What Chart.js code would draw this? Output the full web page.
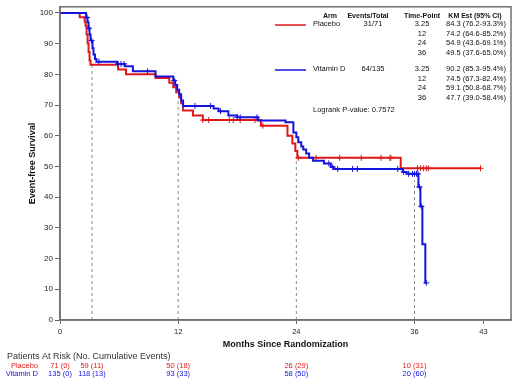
<!DOCTYPE html>
<html>
<head>
<meta charset="utf-8">
<script src="https://cdn.jsdelivr.net/npm/chart.js@4/dist/chart.umd.min.js"></script>
<style>
  html, body { margin: 0; padding: 0; background: #fff; }
  #wrap { width: 520px; height: 387px; }
</style>
</head>
<body>
<div id="wrap"><canvas id="km" width="520" height="387"></canvas></div>
<script>
// KM step points (time in months, survival % after the drop)
const placeboTime = [0, 2.0, 2.5, 2.6, 2.7, 2.8, 2.9, 3.0, 3.1, 5.9, 6.7, 9.7, 11.1, 11.5, 11.8, 12.1, 12.3, 12.5, 13.5, 14.5, 20.4, 23.1, 23.6, 23.9, 24.1, 34.6, 42.7];
const placeboSurv = [100, 98.6, 97.2, 95.8, 93.0, 90.1, 87.3, 84.5, 83.1, 81.6, 80.0, 78.8, 77.3, 75.8, 74.2, 72.5, 70.6, 68.2, 66.6, 65.1, 63.3, 60.0, 57.5, 55.0, 52.8, 49.4, 49.4];
const placeboCensor = [14.5, 15.1, 17.2, 17.6, 18.3, 19.8, 20.6, 24.2, 26.0, 28.4, 30.6, 32.6, 33.5, 33.6, 36.3, 36.6, 36.9, 37.2, 37.4, 42.7];

const vitdTime = [0, 2.65, 2.8, 2.9, 3.0, 3.1, 3.3, 3.4, 3.55, 3.7, 5.8, 6.6, 7.4, 9.7, 11.5, 11.7, 11.9, 12.1, 12.3, 12.5, 15.6, 16.1, 17.1, 18.0, 20.1, 22.9, 23.7, 24.0, 24.2, 24.5, 24.7, 25.0, 25.3, 25.7, 26.8, 27.5, 27.8, 34.8, 35.2, 36.4, 36.6, 36.8, 37.1, 37.2];
const vitdSurv = [100, 98.5, 97.0, 95.0, 93.0, 91.0, 88.5, 86.5, 85.0, 84.1, 83.4, 82.6, 81.0, 79.3, 78.0, 76.5, 75.0, 73.5, 71.5, 69.7, 68.9, 68.0, 66.6, 66.0, 65.0, 64.4, 61.1, 59.5, 57.9, 56.5, 55.5, 54.2, 52.8, 51.9, 51.0, 49.8, 49.2, 48.2, 47.6, 43.3, 37.0, 24.7, 12.1, 12.1];
const vitdCensor = [2.75, 2.95, 3.2, 3.95, 5.9, 6.2, 6.5, 8.9, 11.6, 13.7, 15.3, 16.3, 18.0, 18.3, 20.0, 27.3, 27.7, 28.2, 29.7, 30.2, 34.3, 34.9, 35.4, 35.8, 36.0, 36.2, 36.35, 36.5, 36.7, 37.2];

// dashed reference lines at the table time points
const dashTime = [3.25, 12, 24, 36];
const dashTop = [83.5, 71.5, 52.8, 45.5];

const xTicks = [0, 12, 24, 36, 43];
const yTicks = [0, 10, 20, 30, 40, 50, 60, 70, 80, 90, 100];

// legend table
const arms = ["Placebo", "Vitamin D"];
const eventsTotal = ["31/71", "64/135"];
const timePoints = ["3.25", "12", "24", "36"];
const placeboKM = ["84.3 (76.2-93.3%)", "74.2 (64.6-85.2%)", "54.9 (43.6-69.1%)", "49.5 (37.6-65.0%)"];
const vitdKM = ["90.2 (85.3-95.4%)", "74.5 (67.3-82.4%)", "59.1 (50.8-68.7%)", "47.7 (39.0-58.4%)"];
const pValue = "Logrank P-value: 0.7572";

// patients at risk
const riskTime = [0, 3.25, 12, 24, 36];
const placeboRisk = ["71 (0)", "59 (11)", "50 (18)", "26 (29)", "10 (31)"];
const vitdRisk = ["135 (0)", "118 (13)", "93 (33)", "58 (50)", "20 (60)"];

const RED = "#e01818";
const BLUE = "#1414dc";
const FONT = "'Liberation Sans', Arial, sans-serif";

function survAt(times, surv, t) {
    let v = surv[0];
    for (let i = 0; i < times.length; i++) {
        if (times[i] <= t) v = surv[i];
    }
    return v;
}

function curve(times, surv, color) {
    return {
        data: times.map((t, i) => ({ x: t, y: surv[i] })),
        borderColor: color,
        borderWidth: 2,
        pointRadius: 0,
        stepped: 'before',
        fill: false
    };
}

function censor(times, stepT, stepS, color) {
    return {
        data: times.map(t => ({ x: t, y: survAt(stepT, stepS, t) })),
        borderColor: color,
        backgroundColor: color,
        showLine: false,
        pointStyle: 'cross',
        pointRadius: 3,
        pointBorderWidth: 1
    };
}

const datasets = [
    censor(vitdCensor, vitdTime, vitdSurv, BLUE),
    curve(vitdTime, vitdSurv, BLUE),
    censor(placeboCensor, placeboTime, placeboSurv, RED),
    curve(placeboTime, placeboSurv, RED)
];
dashTime.forEach((t, i) => {
    datasets.push({
        data: [{ x: t, y: 0 }, { x: t, y: dashTop[i] }],
        borderColor: "#8a8a8a",
        borderWidth: 1,
        borderDash: [3, 3],
        pointRadius: 0
    });
});

const extras = {
    id: 'extras',
    afterDraw(chart) {
        const ctx = chart.ctx;
        const a = chart.chartArea;
        const xs = chart.scales.x;
        ctx.save();
        // frame
        ctx.strokeStyle = "#707070";
        ctx.lineWidth = 1.5;
        ctx.strokeRect(a.left, a.top, a.right - a.left, a.bottom - a.top);

        // legend table
        ctx.textBaseline = 'middle';
        ctx.fillStyle = "#111";
        ctx.font = "bold 7px " + FONT;
        ctx.textAlign = 'center';
        ctx.fillText("Arm", 330, 16);
        ctx.fillText("Events/Total", 368, 16);
        ctx.fillText("Time-Point", 422, 16);
        ctx.fillText("KM Est (95% CI)", 475, 16);

        ctx.font = "7.5px " + FONT;
        const blocks = [
            { y: 24, color: RED, km: placeboKM },
            { y: 69, color: BLUE, km: vitdKM }
        ];
        const rowGap = 9.7;
        blocks.forEach((b, k) => {
            ctx.strokeStyle = b.color;
            ctx.lineWidth = 1.5;
            ctx.beginPath();
            ctx.moveTo(275, b.y + 1);
            ctx.lineTo(306, b.y + 1);
            ctx.stroke();
            ctx.fillStyle = "#111";
            ctx.textAlign = 'left';
            ctx.fillText(arms[k], 313, b.y);
            ctx.textAlign = 'center';
            ctx.fillText(eventsTotal[k], 373, b.y);
            timePoints.forEach((tp, j) => {
                ctx.textAlign = 'center';
                ctx.fillText(tp, 422, b.y + j * rowGap);
                ctx.fillText(b.km[j], 476, b.y + j * rowGap);
            });
        });
        ctx.textAlign = 'left';
        ctx.fillText(pValue, 313, 110);

        // patients at risk
        ctx.font = "9px " + FONT;
        ctx.fillStyle = "#333";
        ctx.fillText("Patients At Risk (No. Cumulative Events)", 7, 357);
        ctx.font = "7.5px " + FONT;
        ctx.textAlign = 'right';
        ctx.fillStyle = RED;
        ctx.fillText(arms[0], 38, 366);
        ctx.fillStyle = BLUE;
        ctx.fillText(arms[1], 38, 374);
        ctx.textAlign = 'center';
        riskTime.forEach((t, i) => {
            const px = xs.getPixelForValue(t);
            ctx.fillStyle = RED;
            ctx.fillText(placeboRisk[i], px, 366);
            ctx.fillStyle = BLUE;
            ctx.fillText(vitdRisk[i], px, 374);
        });
        ctx.restore();
    }
};

new Chart(document.getElementById('km'), {
    type: 'line',
    data: { datasets: datasets },
    options: {
        responsive: false,
        animation: false,
        devicePixelRatio: 1,
        layout: { padding: { top: 6, right: 9, left: 0, bottom: 0 } },
        plugins: { legend: { display: false }, tooltip: { enabled: false } },
        scales: {
            x: {
                type: 'linear',
                min: 0,
                max: 45.8,
                afterBuildTicks: s => { s.ticks = xTicks.map(v => ({ value: v })); },
                afterFit: s => { s.height = 67; },
                grid: { drawOnChartArea: false, tickLength: 4, color: "#666" },
                border: { color: "#707070", width: 1.5 },
                ticks: { color: "#222", font: { family: FONT, size: 7.5 }, padding: 3, maxRotation: 0 },
                title: {
                    display: true,
                    text: "Months Since Randomization",
                    color: "#111",
                    font: { family: FONT, size: 9, weight: 'bold' },
                    padding: { top: 0, bottom: 37 }
                }
            },
            y: {
                type: 'linear',
                min: 0,
                max: 102,
                afterBuildTicks: s => { s.ticks = yTicks.map(v => ({ value: v })); },
                afterFit: s => { s.width = 60; },
                grid: { drawOnChartArea: false, tickLength: 5, color: "#666" },
                border: { color: "#707070", width: 1.5 },
                ticks: { color: "#222", font: { family: FONT, size: 8 }, padding: 2 },
                title: {
                    display: true,
                    text: "Event-free Survival",
                    color: "#111",
                    font: { family: FONT, size: 9, weight: 'bold' },
                    padding: { top: 27, bottom: 0 }
                }
            }
        }
    },
    plugins: [extras]
});
</script>
</body>
</html>
